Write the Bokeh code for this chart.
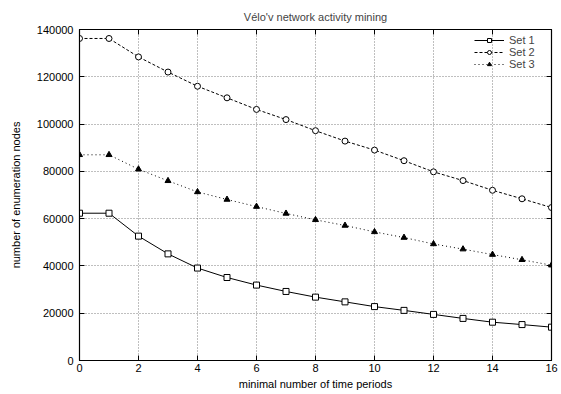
from bokeh.plotting import figure
from bokeh.models import (LinearAxis, FixedTicker, Legend, LegendItem, Range1d,
                          BasicTickFormatter, CustomJSTickFormatter)
from bokeh.embed import file_html
from bokeh.resources import INLINE

# ---- data ----
periods = list(range(17))
set1 = [62300, 62300, 52600, 45100, 39100, 35100, 31900, 29200, 26800, 24800,
        22800, 21200, 19500, 17800, 16200, 15200, 14100]
set2 = [136200, 136200, 128400, 122000, 116000, 111100, 106200, 101900, 97200,
        92800, 89000, 84500, 79800, 76100, 72000, 68400, 64700]
set3 = [87000, 87000, 80900, 76000, 71300, 68100, 65100, 62200, 59500, 57100,
        54400, 52000, 49300, 47100, 44800, 42600, 40300]
x_ticks = [0, 2, 4, 6, 8, 10, 12, 14, 16]
y_ticks = [0, 20000, 40000, 60000, 80000, 100000, 120000, 140000]

FONT = "Liberation Sans"

p = figure(width=561, height=394, output_backend="svg", toolbar_location=None,
           x_range=Range1d(0, 16), y_range=Range1d(0, 140000),
           min_border_left=79, min_border_right=10, min_border_top=29,
           min_border_bottom=34)

p.title.text = "Vélo'v network activity mining"
p.title.align = "center"
p.title.text_font = FONT
p.title.text_font_size = "11px"
p.title.text_font_style = "normal"
p.title.standoff = 13

p.outline_line_color = "black"
p.outline_line_width = 1.2

# axes
for ax in [p.xaxis[0], p.yaxis[0]]:
    ax.major_tick_in = 5
    ax.major_tick_out = 0
    ax.minor_tick_in = 0
    ax.minor_tick_out = 0
    ax.axis_line_color = "black"
    ax.major_tick_line_color = "black"
    ax.major_label_text_font = FONT
    ax.major_label_text_font_size = "11px"
    ax.major_label_text_color = "black"
    ax.axis_label_text_font = FONT
    ax.axis_label_text_font_size = "11px"
    ax.axis_label_text_font_style = "normal"
    ax.axis_label_text_color = "black"

p.xaxis[0].ticker = FixedTicker(ticks=x_ticks)
p.yaxis[0].ticker = FixedTicker(ticks=y_ticks)
p.yaxis[0].formatter = BasicTickFormatter(use_scientific=False)
p.xaxis[0].axis_label = "minimal number of time periods"
p.yaxis[0].axis_label = "number of enumeration nodes"
p.xaxis[0].major_label_standoff = 3
p.xaxis[0].axis_label_standoff = 3
p.yaxis[0].major_label_standoff = 6
p.yaxis[0].axis_label_standoff = 12

# mirror ticks (no labels)
for loc, tk in [("right", y_ticks), ("above", x_ticks)]:
    ax = LinearAxis(ticker=FixedTicker(ticks=tk), major_tick_in=5, major_tick_out=0,
                    minor_tick_in=0, minor_tick_out=0,
                    formatter=CustomJSTickFormatter(code="return ''"),
                    major_label_standoff=-14, axis_line_color="black",
                    major_tick_line_color="black")
    p.add_layout(ax, loc)

# grid
p.xgrid.ticker = FixedTicker(ticks=x_ticks)
p.ygrid.ticker = FixedTicker(ticks=y_ticks)
for g in [p.xgrid[0], p.ygrid[0]]:
    g.grid_line_color = "black"
    g.grid_line_dash = "1 2"
    g.grid_line_alpha = 0.5
    g.grid_line_width = 1

# series
l1 = p.line(periods, set1, line_color="black", line_width=1)
m1 = p.scatter(periods, set1, marker="square", size=6, fill_color="white",
               line_color="black", line_width=1)
l2 = p.line(periods, set2, line_color="black", line_width=1, line_dash="3 2")
m2 = p.scatter(periods, set2, marker="circle", size=6, fill_color="white",
               line_color="black", line_width=1)
l3 = p.line(periods, set3, line_color="black", line_width=1, line_dash="1 3")
m3 = p.scatter(periods, set3, marker="triangle", size=6, fill_color="black",
               line_color="black", line_width=1)

legend = Legend(items=[LegendItem(label="Set 1", renderers=[l1, m1]),
                       LegendItem(label="Set 2", renderers=[l2, m2]),
                       LegendItem(label="Set 3", renderers=[l3, m3])],
                location=(392, 287), label_text_font=FONT,
                label_text_font_size="11px", label_height=10, glyph_height=10,
                glyph_width=30, spacing=-3, padding=3, margin=0,
                background_fill_alpha=0, border_line_alpha=0,
                label_standoff=5)
p.add_layout(legend)

open("out.html", "w").write(file_html(p, INLINE))
